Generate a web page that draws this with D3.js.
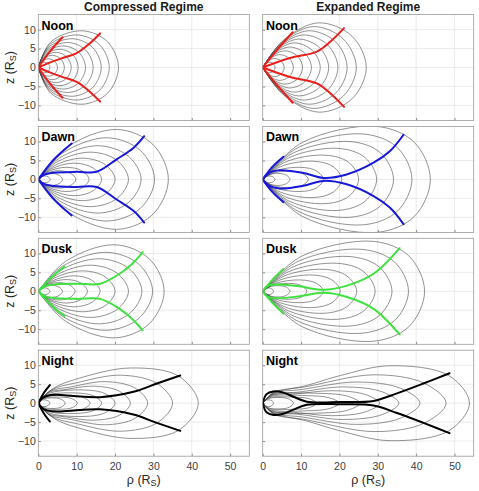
<!DOCTYPE html>
<html>
<head>
<meta charset="utf-8">
<script src="https://cdn.jsdelivr.net/npm/d3@7"></script>
<style>
  body { margin: 0; background: #fff; }
  text { font-family: Arial, "Liberation Sans", sans-serif; }
</style>
</head>
<body>
<div id="chart"></div>
<script>
// ---- data ----
var columns = ["Compressed Regime", "Expanded Regime"];
var rowLabels = ["Noon", "Dawn", "Dusk", "Night"];
var xTicks = [0, 10, 20, 30, 40, 50];
var zTicks = [-10, -5, 0, 5, 10];
var rowColors = ["#e8201c", "#1818d8", "#3fe03f", "#000000"];

// field lines: upper half as [rho, z] from the planet out to the equator; lower half is the mirror
var noonCompressedField = [
  [[0.48, 0.98], [1.65, 1.4], [2.6, 0.98], [3.0, 0]],
  [[0.8, 1.6], [2.75, 2.3], [4.3, 1.6], [5.0, 0]],
  [[1.1, 2.2], [3.75, 3.2], [5.9, 2.2], [6.8, 0]],
  [[1.4, 2.8], [4.7, 4.0], [7.4, 2.8], [8.6, 0]],
  [[1.65, 3.4], [5.7, 4.8], [9.0, 3.4], [10.4, 0]],
  [[1.95, 4.0], [6.7, 5.7], [10.6, 4.0], [12.3, 0]],
  [[2.25, 4.6], [7.8, 6.6], [12.35, 4.6], [14.3, 0]],
  [[2.6, 5.3], [8.9, 7.6], [14.15, 5.3], [16.4, 0]],
  [[2.9, 6.0], [10.1, 8.6], [16.0, 6.0], [18.5, 0]],
  [[3.3, 6.8], [11.4, 9.7], [18.05, 6.8], [20.9, 0]]
];
var noonExpandedField = [
  [[0.65, 0.87], [1.7, 1.4], [2.75, 0.98], [3.2, 0]],
  [[1.15, 1.5], [3.0, 2.4], [4.8, 1.7], [5.6, 0]],
  [[1.65, 2.1], [4.3, 3.4], [6.9, 2.4], [8.0, 0]],
  [[2.1, 2.7], [5.6, 4.4], [9.0, 3.1], [10.4, 0]],
  [[2.6, 3.35], [6.9, 5.4], [10.95, 3.8], [12.7, 0]],
  [[3.1, 4.0], [8.1, 6.5], [12.9, 4.55], [15.0, 0]],
  [[3.5, 4.65], [9.3, 7.5], [14.8, 5.25], [17.2, 0]],
  [[4.0, 5.3], [10.6, 8.6], [16.9, 6.0], [19.6, 0]],
  [[4.5, 6.0], [11.9, 9.7], [19.0, 6.8], [22.0, 0]],
  [[5.0, 6.7], [13.2, 10.8], [21.0, 7.55], [24.4, 0]],
  [[5.5, 7.3], [14.6, 11.8], [23.3, 8.25], [27.0, 0]]
];
var dawnCompressedField = [
  [[0.58, 0.58], [1.6, 0.9], [2.65, 0.63], [3.1, 0]],
  [[1.2, 1.0], [3.3, 1.6], [5.4, 1.1], [6.3, 0]],
  [[1.9, 1.5], [5.2, 2.3], [8.4, 1.6], [9.8, 0]],
  [[2.6, 2.05], [7.2, 3.2], [11.4, 2.25], [13.2, 0]],
  [[3.35, 2.75], [9.3, 4.3], [14.3, 3.0], [16.5, 0]],
  [[4.15, 3.6], [11.5, 5.6], [17.45, 3.9], [20.0, 0]],
  [[4.85, 4.6], [13.5, 7.2], [20.5, 5.05], [23.5, 0]],
  [[5.6, 5.7], [15.5, 8.9], [23.4, 6.2], [26.8, 0]],
  [[6.4, 7.0], [17.8, 11.0], [26.55, 7.7], [30.3, 0]],
  [[7.3, 8.4], [20.4, 13.2], [29.85, 9.25], [33.9, 0]]
];
var dawnExpandedField = [
  [[0.6, 0.63], [1.7, 0.9], [2.75, 0.63], [3.2, 0]],
  [[1.4, 1.1], [4.0, 1.6], [6.2, 1.1], [7.1, 0]],
  [[2.45, 1.55], [7.0, 2.2], [10.4, 1.55], [11.9, 0]],
  [[3.4, 2.25], [9.8, 3.2], [14.0, 2.25], [15.8, 0]],
  [[4.6, 3.35], [13.2, 4.8], [18.4, 3.35], [20.6, 0]],
  [[5.7, 4.5], [16.3, 6.4], [22.4, 4.5], [25.0, 0]],
  [[6.9, 5.75], [19.6, 8.2], [26.7, 5.75], [29.7, 0]],
  [[8.0, 7.0], [22.8, 10.0], [30.7, 7.0], [34.1, 0]],
  [[9.2, 8.4], [26.2, 12.0], [35.1, 8.4], [38.9, 0]],
  [[10.4, 9.8], [29.7, 14.0], [39.5, 9.8], [43.7, 0]]
];
var duskCompressedField = [
  [[0.58, 0.58], [1.6, 0.9], [2.6, 0.63], [3.0, 0]],
  [[1.2, 1.0], [3.4, 1.6], [5.4, 1.1], [6.3, 0]],
  [[1.9, 1.5], [5.3, 2.3], [8.3, 1.6], [9.6, 0]],
  [[2.6, 2.0], [7.2, 3.1], [11.1, 2.2], [12.8, 0]],
  [[3.3, 2.6], [9.2, 4.1], [14.0, 2.9], [16.1, 0]],
  [[4.1, 3.45], [11.5, 5.4], [17.45, 3.8], [20.0, 0]],
  [[4.9, 4.4], [13.6, 6.9], [20.5, 4.8], [23.5, 0]],
  [[5.7, 5.5], [15.8, 8.6], [23.65, 6.0], [27.0, 0]],
  [[6.3, 6.6], [17.6, 10.3], [26.15, 7.2], [29.8, 0]],
  [[7.1, 7.9], [19.8, 12.3], [28.9, 8.6], [32.8, 0]]
];
var duskExpandedField = [
  [[0.53, 0.63], [1.5, 0.9], [2.4, 0.63], [2.8, 0]],
  [[1.4, 1.05], [4.0, 1.5], [6.2, 1.05], [7.1, 0]],
  [[2.4, 1.5], [6.8, 2.1], [10.1, 1.5], [11.5, 0]],
  [[3.4, 2.1], [9.8, 3.0], [14.0, 2.1], [15.8, 0]],
  [[4.55, 3.0], [13.0, 4.3], [18.05, 3.0], [20.2, 0]],
  [[5.6, 4.05], [16.0, 5.8], [21.95, 4.05], [24.5, 0]],
  [[6.8, 5.2], [19.4, 7.4], [26.3, 5.2], [29.3, 0]],
  [[7.9, 6.45], [22.5, 9.2], [30.35, 6.45], [33.7, 0]],
  [[9.0, 7.8], [25.6, 11.1], [34.3, 7.8], [38.0, 0]],
  [[10.1, 9.25], [28.8, 13.2], [38.2, 9.25], [42.2, 0]]
];
var nightCompressedField = [
  [[0.55, 0.62], [1.5, 0.9], [2.55, 0.63], [3.0, 0]],
  [[1.2, 1.05], [3.8, 1.4], [6.05, 1.0], [7.0, 0]],
  [[1.4, 1.3], [5.8, 1.6], [8.9, 1.15], [10.2, 0]],
  [[1.7, 1.65], [7.8, 2.1], [11.8, 1.5], [13.5, 0]],
  [[2.0, 2.0], [9.8, 2.7], [14.5, 1.9], [16.5, 0]],
  [[2.3, 2.4], [12.0, 3.5], [17.6, 2.45], [20.0, 0]],
  [[2.6, 2.8], [7.0, 3.6], [14.5, 4.5], [21.15, 3.15], [24.0, 0]],
  [[2.9, 3.1], [8.5, 4.3], [17.5, 5.7], [25.2, 4.0], [28.5, 0]],
  [[3.4, 3.5], [10.0, 5.4], [21.5, 7.4], [30.95, 5.2], [35.0, 0]],
  [[3.9, 3.9], [11.7, 6.9], [24.0, 9.3], [36.5, 7.2], [41.7, 0]]
];
var nightExpandedField = [
  [[0.53, 0.63], [1.5, 0.9], [2.4, 0.63], [2.8, 0]],
  [[1.3, 1.15], [4.5, 1.5], [6.95, 1.05], [8.0, 0]],
  [[1.6, 1.4], [8.0, 1.6], [12.2, 1.15], [14.0, 0]],
  [[1.9, 1.7], [11.5, 2.0], [17.45, 1.4], [20.0, 0]],
  [[2.1, 1.95], [15.0, 2.6], [22.3, 1.8], [25.4, 0]],
  [[2.3, 2.2], [8.0, 2.4], [18.0, 3.3], [26.75, 2.3], [30.5, 0]],
  [[2.5, 2.4], [9.0, 2.9], [21.0, 4.3], [31.15, 3.0], [35.5, 0]],
  [[2.7, 2.6], [10.0, 3.6], [24.5, 5.6], [36.05, 3.9], [41.0, 0]],
  [[2.9, 2.9], [11.0, 4.3], [29.0, 7.5], [42.15, 5.25], [47.8, 0]],
  [[2.8, 2.6], [11.5, 4.7], [20.2, 7.3], [33.2, 9.9], [48.5, 7.3], [53.9, 0]]
];

// thick coloured boundaries: upper half from the planet as [rho, z]; drawn again mirrored
var noonCompressedThick = [
  [[0, 0], [3.0, 4.2], [6.3, 8.0]],
  [[0, 0], [3.0, 1.3], [6.0, 2.4], [10.0, 3.8], [13.0, 6.0], [16.1, 9.0]]
];
var noonExpandedThick = [
  [[0, 0], [3.7, 4.6], [7.8, 9.3]],
  [[0, 0], [7.1, 2.5], [14.1, 4.2], [17.6, 6.8], [21.2, 10.4]]
];
var dawnCompressedThick = [
  [[0, 0], [4.0, 5.2], [8.7, 9.5]],
  [[0, 0], [1.5, 1.2], [3.9, 1.75], [10.0, 2.0], [15.2, 2.0], [20.4, 5.3], [24.8, 8.3], [27.6, 11.4]]
];
var dawnExpandedThick = [
  [[0, 0], [2.5, 3.3], [5.4, 6.0]],
  [[0, 0], [1.5, 1.6], [4.5, 2.4], [10.6, 1.7], [15.8, 0.4], [21.9, 1.3], [28.9, 4.4], [33.2, 7.5], [36.7, 11.8]]
];
var duskCompressedThick = [
  [[0, 0], [3.3, 3.6], [6.8, 6.5]],
  [[0, 0], [1.5, 1.2], [4.0, 1.8], [10.0, 2.0], [16.1, 2.0], [21.0, 4.5], [24.5, 7.3], [27.2, 10.3]]
];
var duskExpandedThick = [
  [[0, 0], [2.5, 3.0], [5.4, 5.9]],
  [[0, 0], [1.3, 1.4], [3.7, 1.8], [9.0, 1.4], [15.8, 0.4], [22.0, 1.5], [29.0, 4.7], [35.7, 11.4]]
];
var nightCompressedThick = [
  [[0, 0], [1.5, 2.8], [3.0, 4.8]],
  [[0, 0], [1.0, 1.3], [2.2, 1.9], [4.8, 2.2], [9.1, 1.9], [16.1, 1.6], [24.8, 3.0], [30.9, 5.2], [37.0, 7.3]]
];
var nightExpandedThick = [
  [[0, 0], [1.0, 2.4], [2.8, 3.1], [5.4, 2.8], [8.0, 1.7], [11.5, 0.4], [20.2, 0.3], [28.9, 0.6], [35.0, 2.6], [41.9, 5.2], [48.7, 7.9]]
];

var panels = [
  { row: 0, col: 0, field: noonCompressedField, thick: noonCompressedThick },
  { row: 0, col: 1, field: noonExpandedField, thick: noonExpandedThick },
  { row: 1, col: 0, field: dawnCompressedField, thick: dawnCompressedThick },
  { row: 1, col: 1, field: dawnExpandedField, thick: dawnExpandedThick },
  { row: 2, col: 0, field: duskCompressedField, thick: duskCompressedThick },
  { row: 2, col: 1, field: duskExpandedField, thick: duskExpandedThick },
  { row: 3, col: 0, field: nightCompressedField, thick: nightCompressedThick },
  { row: 3, col: 1, field: nightExpandedField, thick: nightExpandedThick }
];

// ---- layout ----
var width = 479, height = 491;
var left0 = 38.3, top0 = 14.5;
var panelW = 211, panelH = 106;
var colStep = 224.4, rowStep = 111.9;

var x = d3.scaleLinear().domain([0, 55]).range([0, panelW]);
var y = d3.scaleLinear().domain([-14, 14]).range([panelH, 0]);

var svg = d3.select("#chart").append("svg")
    .attr("width", width)
    .attr("height", height);

var smooth = d3.line()
    .x(function (d) { return x(d[0]); })
    .y(function (d) { return y(d[1]); })
    .curve(d3.curveCatmullRom.alpha(0.5));

function loop(upper) {
    var lower = upper.slice(0, -1).reverse().map(function (p) { return [p[0], -p[1]]; });
    return [[0, 0]].concat(upper, lower, [[0, 0]]);
}
function mirror(pts) {
    return pts.map(function (p) { return [p[0], -p[1]]; });
}

panels.forEach(function (p, i) {
    var g = svg.append("g")
        .attr("transform", "translate(" + (left0 + p.col * colStep) + "," + (top0 + p.row * rowStep) + ")");

    g.append("defs").append("clipPath").attr("id", "clip" + i)
        .append("rect").attr("width", panelW).attr("height", panelH);

    // grid
    g.selectAll(".gx").data(xTicks.slice(1)).enter().append("line")
        .attr("x1", function (d) { return x(d); }).attr("x2", function (d) { return x(d); })
        .attr("y1", 0).attr("y2", panelH)
        .attr("stroke", "#e6e6e6").attr("stroke-width", 0.8);
    g.selectAll(".gy").data(zTicks).enter().append("line")
        .attr("x1", 0).attr("x2", panelW)
        .attr("y1", function (d) { return y(d); }).attr("y2", function (d) { return y(d); })
        .attr("stroke", "#e6e6e6").attr("stroke-width", 0.8);

    // axes (ticks point inward)
    var xAxis = d3.axisBottom(x).tickValues(xTicks).tickSize(-2.5).tickPadding(6);
    if (p.row !== 3) xAxis.tickFormat("");
    var gx = g.append("g").attr("transform", "translate(0," + panelH + ")").call(xAxis);
    var yAxis = d3.axisLeft(y).tickValues(zTicks).tickSize(-2.5).tickPadding(2.5);
    if (p.col !== 0) yAxis.tickFormat("");
    var gy = g.append("g").call(yAxis);
    [gx, gy].forEach(function (a) {
        a.select(".domain").remove();
        a.selectAll("line").attr("stroke", "#8c8c8c");
        a.selectAll("text").attr("fill", "#404040").style("font-size", "10.5px")
            .style("font-family", "Arial, 'Liberation Sans', sans-serif");
    });

    var plot = g.append("g").attr("clip-path", "url(#clip" + i + ")");

    // field lines
    plot.selectAll(".field").data(p.field).enter().append("path")
        .attr("d", function (d) { return smooth(loop(d)); })
        .attr("fill", "none")
        .attr("stroke", "#4a4a4a")
        .attr("stroke-width", 0.6);

    // thick boundaries
    var thick = p.thick.concat(p.thick.map(mirror));
    plot.selectAll(".thick").data(thick).enter().append("path")
        .attr("d", smooth)
        .attr("fill", "none")
        .attr("stroke", rowColors[p.row])
        .attr("stroke-width", 2)
        .attr("stroke-linecap", "round");

    // box
    g.append("rect").attr("width", panelW).attr("height", panelH)
        .attr("fill", "none").attr("stroke", "#9a9a9a").attr("stroke-width", 0.8);

    g.append("text")
        .attr("x", 3.2).attr("y", 15)
        .style("font-size", "12.5px").style("font-weight", "bold")
        .attr("fill", "#000")
        .text(rowLabels[p.row]);
});

// column titles
columns.forEach(function (c, j) {
    svg.append("text")
        .attr("x", left0 + j * colStep + panelW / 2)
        .attr("y", 10.5)
        .attr("text-anchor", "middle")
        .style("font-size", "12px").style("font-weight", "bold")
        .attr("fill", "#1a1a1a")
        .text(c);
});

// y labels
rowLabels.forEach(function (r, k) {
    var t = svg.append("text")
        .attr("transform", "translate(14," + (top0 + k * rowStep + panelH / 2) + ") rotate(-90)")
        .attr("text-anchor", "middle")
        .style("font-size", "12.5px")
        .attr("fill", "#262626");
    t.append("tspan").text("z (R");
    t.append("tspan").attr("baseline-shift", "-25%").style("font-size", "9px").text("S");
    t.append("tspan").text(")");
});

// x labels
columns.forEach(function (c, j) {
    var t = svg.append("text")
        .attr("x", left0 + j * colStep + panelW / 2)
        .attr("y", 484)
        .attr("text-anchor", "middle")
        .style("font-size", "12.5px")
        .attr("fill", "#262626");
    t.append("tspan").text("\u03c1 (R");
    t.append("tspan").attr("baseline-shift", "-25%").style("font-size", "9px").text("S");
    t.append("tspan").text(")");
});
</script>
</body>
</html>
